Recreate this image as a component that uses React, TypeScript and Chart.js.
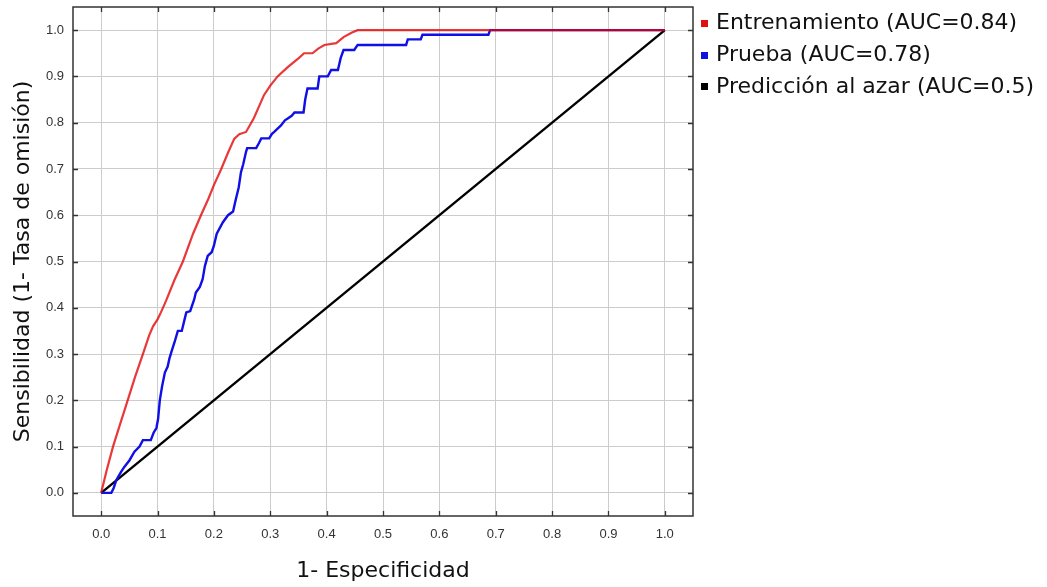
import React, { useEffect, useRef } from "react";
import { Chart, registerables } from "chart.js";

Chart.register(...registerables);

// ---- Data ----
const trainFpr = [0, 0.01, 0.021, 0.034, 0.047, 0.06, 0.074, 0.085, 0.092, 0.1, 0.106, 0.115, 0.13, 0.145, 0.163, 0.177, 0.19, 0.2, 0.213, 0.225, 0.236, 0.245, 0.257, 0.271, 0.289, 0.3, 0.313, 0.331, 0.351, 0.36, 0.375, 0.385, 0.396, 0.417, 0.43, 0.445, 0.455, 1];
const trainTpr = [0, 0.05, 0.1, 0.15, 0.2, 0.25, 0.3, 0.34, 0.36, 0.375, 0.39, 0.415, 0.46, 0.5, 0.56, 0.6, 0.635, 0.665, 0.7, 0.735, 0.765, 0.775, 0.78, 0.81, 0.86, 0.88, 0.9, 0.92, 0.94, 0.95, 0.95, 0.96, 0.968, 0.972, 0.985, 0.995, 1, 1];

const testFpr = [0, 0.018, 0.022, 0.027, 0.035, 0.041, 0.05, 0.059, 0.068, 0.074, 0.088, 0.093, 0.098, 0.101, 0.104, 0.108, 0.113, 0.118, 0.121, 0.126, 0.13, 0.136, 0.143, 0.147, 0.151, 0.158, 0.165, 0.168, 0.175, 0.18, 0.184, 0.189, 0.196, 0.2, 0.205, 0.216, 0.225, 0.234, 0.239, 0.244, 0.248, 0.252, 0.257, 0.259, 0.275, 0.28, 0.284, 0.298, 0.303, 0.307, 0.313, 0.319, 0.326, 0.331, 0.338, 0.343, 0.359, 0.362, 0.366, 0.384, 0.387, 0.402, 0.408, 0.42, 0.425, 0.43, 0.449, 0.455, 0.541, 0.544, 0.567, 0.57, 0.687, 0.69, 1];
const testTpr = [0, 0, 0.01, 0.028, 0.045, 0.056, 0.07, 0.089, 0.1, 0.114, 0.114, 0.13, 0.14, 0.16, 0.2, 0.23, 0.26, 0.273, 0.29, 0.31, 0.325, 0.35, 0.35, 0.37, 0.39, 0.393, 0.418, 0.433, 0.445, 0.462, 0.49, 0.512, 0.52, 0.534, 0.56, 0.585, 0.6, 0.608, 0.635, 0.66, 0.693, 0.71, 0.737, 0.745, 0.745, 0.756, 0.766, 0.766, 0.776, 0.78, 0.787, 0.794, 0.805, 0.809, 0.815, 0.822, 0.822, 0.85, 0.874, 0.874, 0.9, 0.9, 0.914, 0.914, 0.94, 0.957, 0.957, 0.968, 0.968, 0.98, 0.98, 0.99, 0.99, 1, 1];

const randomFpr = [0, 1];
const randomTpr = [0, 1];

const xTickValues = [0, 0.1, 0.2, 0.3, 0.4, 0.5, 0.6, 0.7, 0.8, 0.9, 1.0];
const yTickValues = [0, 0.1, 0.2, 0.3, 0.4, 0.5, 0.6, 0.7, 0.8, 0.9, 1.0];

const seriesLabels = ["Entrenamiento (AUC=0.84)", "Prueba (AUC=0.78)", "Predicción al azar (AUC=0.5)"];
const seriesColors = ["rgba(228,0,0,0.78)", "#0f0fe6", "#000000"];
const legendColors = ["#e01010", "#1010e0", "#000000"];

const xTitle = "1- Especificidad";
const yTitle = "Sensibilidad (1- Tasa de omisión)";

const toPoints = (xs: number[], ys: number[]) => xs.map((x, i) => ({ x, y: ys[i] }));

const framePlugin = {
  id: "frame",
  afterDraw(chart: any) {
    const { ctx, chartArea: a, scales } = chart;
    ctx.save();
    ctx.strokeStyle = "#333333";
    ctx.lineWidth = 1.5;
    ctx.strokeRect(a.left, a.top, a.right - a.left, a.bottom - a.top);
    ctx.lineWidth = 1.3;
    ctx.beginPath();
    scales.x.ticks.forEach((t: any) => {
      const px = Math.round(scales.x.getPixelForValue(t.value)) + 0.5;
      ctx.moveTo(px, a.top);
      ctx.lineTo(px, a.top + 5);
      ctx.moveTo(px, a.bottom);
      ctx.lineTo(px, a.bottom - 5);
    });
    scales.y.ticks.forEach((t: any) => {
      const py = Math.round(scales.y.getPixelForValue(t.value)) + 0.5;
      ctx.moveTo(a.left, py);
      ctx.lineTo(a.left + 5, py);
      ctx.moveTo(a.right, py);
      ctx.lineTo(a.right - 5, py);
    });
    ctx.stroke();
    ctx.restore();
  },
};

export default function App() {
  const canvasRef = useRef<HTMLCanvasElement | null>(null);

  useEffect(() => {
    document.body.style.margin = "0";
    const canvas = canvasRef.current;
    if (!canvas) return;
    const chart = new Chart(canvas, {
      type: "line",
      data: {
        datasets: [
          {
            label: seriesLabels[0],
            data: toPoints(trainFpr, trainTpr),
            borderColor: seriesColors[0],
            borderWidth: 2.2,
            pointRadius: 0,
            tension: 0,
            fill: false,
          },
          {
            label: seriesLabels[1],
            data: toPoints(testFpr, testTpr),
            borderColor: seriesColors[1],
            borderWidth: 2.4,
            pointRadius: 0,
            tension: 0,
            fill: false,
          },
          {
            label: seriesLabels[2],
            data: toPoints(randomFpr, randomTpr),
            borderColor: seriesColors[2],
            borderWidth: 2.4,
            pointRadius: 0,
            tension: 0,
            fill: false,
          },
        ],
      },
      options: {
        animation: false,
        responsive: false,
        maintainAspectRatio: false,
        layout: { padding: { left: 0, top: 7, right: 354, bottom: 0 } },
        plugins: {
          legend: { display: false },
          tooltip: { enabled: false },
        },
        scales: {
          x: {
            type: "linear",
            min: -0.05,
            max: 1.05,
            afterBuildTicks: (s: any) => {
              s.ticks = xTickValues.map((v) => ({ value: v }));
            },
            afterFit: (s: any) => {
              s.height = 71;
              s.paddingLeft = 0;
              s.paddingRight = 0;
            },
            grid: { color: "#cccccc", lineWidth: 1, drawTicks: false },
            border: { display: false },
            ticks: {
              padding: 11,
              color: "#333333",
              font: { family: "Liberation Sans", size: 13 },
              callback: (v: any) => Number(v).toFixed(1),
              maxRotation: 0,
            },
            title: {
              display: true,
              text: xTitle,
              color: "#111111",
              font: { family: "DejaVu Sans", size: 22 },
              padding: { top: 0, bottom: 3 },
            },
          },
          y: {
            type: "linear",
            min: -0.05,
            max: 1.05,
            afterBuildTicks: (s: any) => {
              s.ticks = yTickValues.map((v) => ({ value: v }));
            },
            afterFit: (s: any) => {
              s.width = 73;
              s.paddingTop = 0;
              s.paddingBottom = 0;
            },
            grid: { color: "#cccccc", lineWidth: 1, drawTicks: false },
            border: { display: false },
            ticks: {
              padding: 9,
              color: "#333333",
              font: { family: "Liberation Sans", size: 13 },
              callback: (v: any) => Number(v).toFixed(1),
            },
            title: {
              display: true,
              text: yTitle,
              color: "#111111",
              font: { family: "DejaVu Sans", size: 22 },
              padding: { top: 10, bottom: 0 },
            },
          },
        },
      },
      plugins: [framePlugin],
    });
    return () => chart.destroy();
  }, []);

  const rowTops = [9, 41, 72.5];

  return (
    <div style={{ position: "relative", width: 1047, height: 587, background: "#ffffff" }}>
      <canvas ref={canvasRef} width={1047} height={587} style={{ display: "block", width: 1047, height: 587 }} />
      {seriesLabels.map((label, i) => (
        <div
          key={label}
          style={{
            position: "absolute",
            left: 701,
            top: rowTops[i],
            height: 26,
            display: "flex",
            alignItems: "center",
            fontFamily: "DejaVu Sans",
            fontSize: 22,
            lineHeight: "26px",
            color: "#111111",
            whiteSpace: "nowrap",
          }}
        >
          <span
            style={{
              display: "inline-block",
              width: 7,
              height: 7,
              background: legendColors[i],
              marginRight: 8,
              marginTop: 2,
            }}
          />
          <span>{label}</span>
        </div>
      ))}
    </div>
  );
}
